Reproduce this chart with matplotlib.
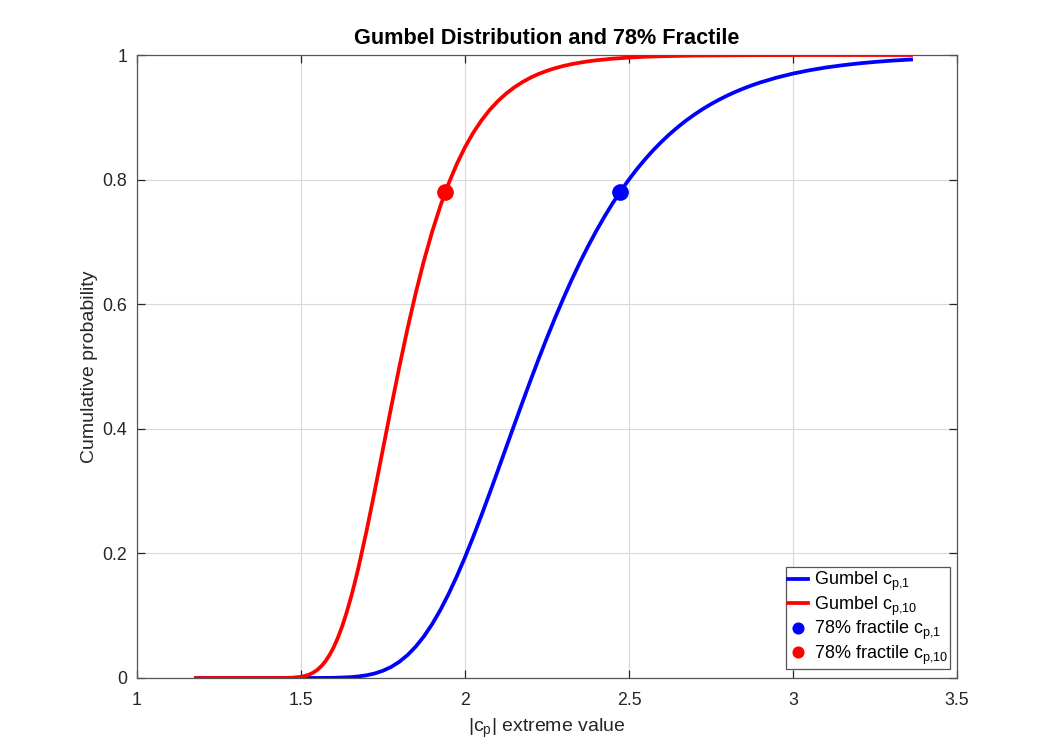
import matplotlib
matplotlib.use("Agg")
import matplotlib.pyplot as plt

plt.rcParams['font.family'] = ['Liberation Sans', 'DejaVu Sans']
plt.rcParams['mathtext.fontset'] = 'custom'
plt.rcParams['mathtext.rm'] = 'Liberation Sans'
plt.rcParams['mathtext.it'] = 'Liberation Sans'
plt.rcParams['mathtext.default'] = 'regular'

# |cp| values (x) and cumulative probabilities
x_cp1 = [1.18, 1.50, 1.55, 1.60, 1.65, 1.675, 1.70, 1.725, 1.75, 1.775,
         1.80, 1.825, 1.85, 1.875, 1.90, 1.925, 1.95, 1.975, 2.00, 2.025,
         2.05, 2.075, 2.10, 2.125, 2.15, 2.175, 2.20, 2.225, 2.25, 2.275,
         2.30, 2.325, 2.35, 2.375, 2.40, 2.425, 2.45, 2.475, 2.50, 2.525,
         2.55, 2.575, 2.60, 2.625, 2.65, 2.675, 2.70, 2.725, 2.75, 2.775,
         2.80, 2.825, 2.85, 2.875, 2.90, 2.95, 3.00, 3.05, 3.10, 3.15,
         3.20, 3.25, 3.30, 3.36]
p_cp1 = [0.0, 0.0, 0.00005, 0.0003, 0.0013, 0.0025, 0.0044, 0.0073, 0.0117,
         0.0178, 0.0261, 0.0369, 0.0505, 0.0670, 0.0866, 0.1093, 0.1349,
         0.1632, 0.1938, 0.2265, 0.2609, 0.2964, 0.3327, 0.3694, 0.4060,
         0.4423, 0.4780, 0.5127, 0.5463, 0.5786, 0.6095, 0.6389, 0.6667,
         0.6928, 0.7174, 0.7404, 0.7619, 0.7818, 0.8003, 0.8174, 0.8332,
         0.8478, 0.8612, 0.8735, 0.8848, 0.8952, 0.9046, 0.9133, 0.9212,
         0.9284, 0.9350, 0.9410, 0.9464, 0.9514, 0.9559, 0.9637, 0.9702,
         0.9755, 0.9799, 0.9835, 0.9865, 0.9889, 0.9909, 0.9928]

x_cp10 = [1.18, 1.40, 1.45, 1.475, 1.50, 1.5125, 1.525, 1.5375, 1.55, 1.5625,
          1.575, 1.5875, 1.60, 1.6125, 1.625, 1.6375, 1.65, 1.6625, 1.675,
          1.70, 1.725, 1.75, 1.775, 1.80, 1.825, 1.85, 1.875,
          1.90, 1.925, 1.95, 1.975, 2.00, 2.025, 2.05, 2.075, 2.10, 2.125,
          2.15, 2.175, 2.20, 2.225, 2.25, 2.275, 2.30, 2.325, 2.35, 2.375,
          2.40, 2.45, 2.50, 2.55, 2.60, 2.65, 2.70, 2.80, 2.90, 3.00, 3.36]
p_cp10 = [0.0, 0.0, 0.0001, 0.0006, 0.0019, 0.0034, 0.0055, 0.0087, 0.0132,
          0.0193, 0.0272, 0.0373, 0.0497, 0.0647, 0.0822, 0.1023, 0.1249,
          0.1498, 0.1769, 0.2364, 0.3009, 0.3679, 0.4349, 0.4999,
          0.5614, 0.6184, 0.6702, 0.7166, 0.7577, 0.7937, 0.8250, 0.8520,
          0.8751, 0.8949, 0.9117, 0.9259, 0.9379, 0.9480, 0.9565, 0.9637,
          0.9697, 0.9747, 0.9789, 0.9824, 0.9853, 0.9877, 0.9898, 0.9915,
          0.9941, 0.9959, 0.9972, 0.9980, 0.9986, 0.9991, 0.9995, 0.9998,
          0.9999, 1.0]

fractile_level = 0.78
fractile_cp1 = 2.473
fractile_cp10 = 1.940

xticks = [1, 1.5, 2, 2.5, 3, 3.5]
xticklabels = ['1', '1.5', '2', '2.5', '3', '3.5']
yticks = [0, 0.2, 0.4, 0.6, 0.8, 1]
yticklabels = ['0', '0.2', '0.4', '0.6', '0.8', '1']

fig = plt.figure(figsize=(10.56, 7.5), dpi=100)
ax = fig.add_axes([137/1056, 1 - 678/750, 820/1056, 623/750])

axcol = '#262626'
ax.plot(x_cp1, p_cp1, color='#0000ff', lw=2.7, label=r'Gumbel c$_{p{,}1}$',
        zorder=3, solid_joinstyle='round')
ax.plot(x_cp10, p_cp10, color='#ff0000', lw=2.7, label=r'Gumbel c$_{p{,}10}$',
        zorder=3, solid_joinstyle='round')
ax.plot([fractile_cp1], [fractile_level], 'o', color='#0000ff', ms=11,
        label=r'78% fractile c$_{p{,}1}$', zorder=4, linestyle='none')
ax.plot([fractile_cp10], [fractile_level], 'o', color='#ff0000', ms=11,
        label=r'78% fractile c$_{p{,}10}$', zorder=4, linestyle='none')

ax.set_xlim(1, 3.5)
ax.set_ylim(0, 1)
ax.set_xticks(xticks)
ax.set_xticklabels(xticklabels)
ax.set_yticks(yticks)
ax.set_yticklabels(yticklabels)

ax.grid(True, color='#d9d9d9', linewidth=0.8)
ax.set_axisbelow(True)
for s in ax.spines.values():
    s.set_color('#555555')
    s.set_linewidth(0.9)
ax.tick_params(direction='in', top=True, right=True, length=6, width=0.9,
               color=axcol, labelcolor=axcol, labelsize=12.8)
ax.tick_params(axis='x', pad=10)
ax.tick_params(axis='y', pad=7)

ax.set_xlabel(r'|c$_p$| extreme value', fontsize=14, color=axcol, labelpad=6)
ax.set_ylabel('Cumulative probability', fontsize=14, color=axcol, labelpad=3)
ax.set_title('Gumbel Distribution and 78% Fractile', fontsize=15.6,
             fontweight='bold', color='black', pad=8)

leg = ax.legend(loc='lower right', bbox_to_anchor=(0.9915, 0.0145),
                borderaxespad=0, fontsize=13, handlelength=1.1,
                handletextpad=0.3, labelspacing=0.08, borderpad=0.12,
                fancybox=False, framealpha=1, edgecolor='#555555',
                markerscale=0.7)
leg.get_frame().set_linewidth(0.9)

fig.savefig('out.png', dpi=100)
